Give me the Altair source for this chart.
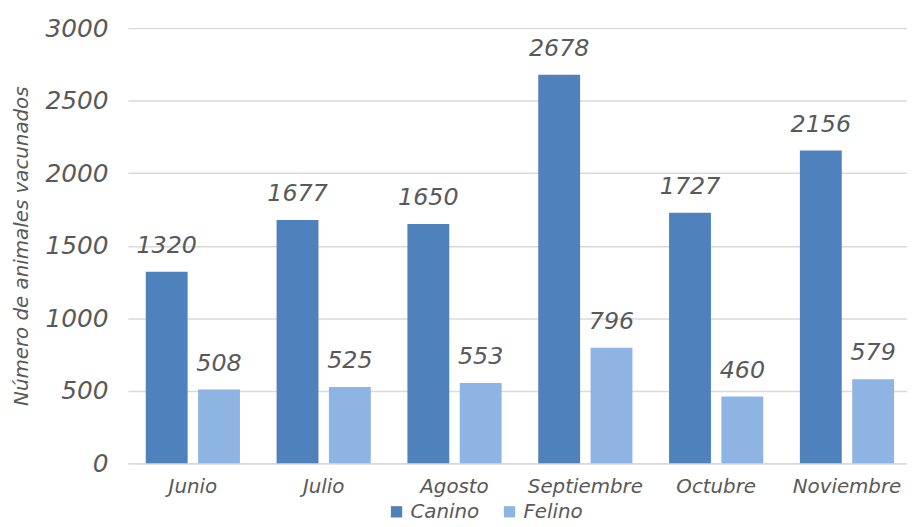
import altair as alt
import pandas as pd

meses = ["Junio", "Julio", "Agosto", "Septiembre", "Octubre", "Noviembre"]
canino = [1320, 1677, 1650, 2678, 1727, 2156]
felino = [508, 525, 553, 796, 460, 579]
series = ["Canino", "Felino"]
colores = ["#4F81BD", "#8EB4E3"]

rows = []
for i, m in enumerate(meses):
    rows.append({"mes": m, "especie": "Canino", "valor": canino[i]})
    rows.append({"mes": m, "especie": "Felino", "valor": felino[i]})
df = pd.DataFrame(rows)

FONT = "DejaVu Sans"
GRAY = "#595959"
W = 200

x = alt.X("mes:N", sort=meses, title=None,
          scale=alt.Scale(paddingInner=0.28, paddingOuter=0.1175, align=0.58),
          axis=alt.Axis(labelAngle=0, labelFont=FONT, labelFontStyle="italic",
                        labelFontWeight=W,
                        labelFontSize=20, labelColor=GRAY, labelPadding=14,
                        ticks=False, domainColor="#D9D9D9", domainWidth=1.5))
xo = alt.XOffset("especie:N", sort=series, scale=alt.Scale(paddingInner=0.2))
y = alt.Y("valor:Q", title="Número de animales vacunados",
          scale=alt.Scale(domain=[0, 3000]),
          axis=alt.Axis(values=[0, 500, 1000, 1500, 2000, 2500, 3000], format="d",
                        labelFont=FONT, labelFontStyle="italic", labelFontSize=25,
                        labelFontWeight=W,
                        labelColor=GRAY, labelPadding=20, ticks=False, domain=False,
                        gridColor="#D9D9D9", gridWidth=1.5,
                        titleFont=FONT, titleFontStyle="italic", titleFontSize=20,
                        titleFontWeight=W, titleColor=GRAY, titlePadding=14))

color = alt.Color("especie:N", sort=series,
                  scale=alt.Scale(domain=series, range=colores),
                  legend=alt.Legend(title=None, orient="none", direction="horizontal",
                                    legendX=261, legendY=478,
                                    symbolType="square", symbolSize=130,
                                    symbolStrokeWidth=0,
                                    labelFont=FONT, labelFontStyle="italic",
                                    labelFontWeight=W,
                                    labelFontSize=20, labelColor=GRAY,
                                    columnPadding=20, labelOffset=4))

bars = alt.Chart(df).mark_bar().encode(x=x, xOffset=xo, y=y, color=color)
texts = alt.Chart(df).mark_text(baseline="bottom", dy=-14, font=FONT,
                                fontStyle="italic", fontWeight=W, fontSize=24,
                                color=GRAY).encode(
    x=alt.X("mes:N", sort=meses), xOffset=alt.XOffset("especie:N", sort=series),
    y="valor:Q", text="valor:Q")

chart = (bars + texts).properties(
    width=786, height=439,
    autosize=alt.AutoSizeParams(type="none"),
    padding={"left": 121, "top": 18, "right": 0, "bottom": 62},
).configure_view(stroke=None)

chart.save("out.html", embed_options={"renderer": "svg", "actions": False})
